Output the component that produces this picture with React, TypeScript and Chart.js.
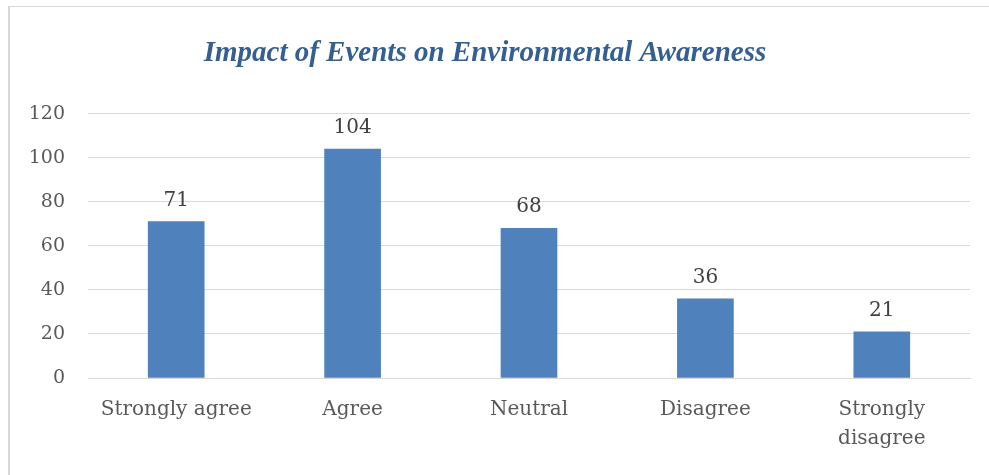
import React, { useEffect, useRef } from "react";
import { Chart, registerables } from "chart.js";

Chart.register(...registerables);

// Survey responses
const categories: string[] = ["Strongly agree", "Agree", "Neutral", "Disagree", "Strongly disagree"];
const responses: number[] = [71, 104, 68, 36, 21];
const yTicks: number[] = [0, 20, 40, 60, 80, 100, 120];

const TITLE = "Impact of Events on Environmental Awareness";
const BAR_COLOR = "#4F81BD";
const TEXT_COLOR = "#595959";
const GRID_COLOR = "#D9D9D9";
const SERIF = "'DejaVu Serif', serif";

// Writes each bar's value just above it
const valueLabels = {
  id: "valueLabels",
  afterDatasetsDraw(chart: any) {
    const { ctx } = chart;
    const meta = chart.getDatasetMeta(0);
    ctx.save();
    ctx.font = `20px ${SERIF}`;
    ctx.fillStyle = "#404040";
    ctx.textAlign = "center";
    ctx.textBaseline = "bottom";
    meta.data.forEach((bar: any, i: number) => {
      ctx.fillText(String(chart.data.datasets[0].data[i]), bar.x, bar.y - 11);
    });
    ctx.restore();
  },
};

export default function App() {
  const canvasRef = useRef<HTMLCanvasElement | null>(null);

  useEffect(() => {
    if (!canvasRef.current) return;
    const chart = new Chart(canvasRef.current, {
      type: "bar",
      data: {
        labels: categories,
        datasets: [
          {
            data: responses,
            backgroundColor: BAR_COLOR,
            borderColor: BAR_COLOR,
            borderWidth: 0,
            barThickness: 56,
          },
        ],
      },
      options: {
        responsive: false,
        animation: false,
        layout: { padding: { top: 30, right: 19, bottom: 0, left: 0 } },
        plugins: {
          legend: { display: false },
          tooltip: { enabled: false },
          title: {
            display: true,
            text: TITLE,
            color: "#365F91",
            font: { family: "'Liberation Serif', serif", size: 29, weight: "bold", style: "italic" },
            padding: { top: 6, bottom: 43 },
          },
        },
        scales: {
          x: {
            grid: { display: false, drawTicks: false },
            border: { display: true, color: GRID_COLOR, width: 1 },
            ticks: {
              color: TEXT_COLOR,
              font: { family: SERIF, size: 20, lineHeight: 1.45 },
              padding: 17,
              maxRotation: 0,
              autoSkip: false,
              callback: function (this: any, value: any) {
                const label = categories[value as number];
                return label.length > 15 ? label.split(" ") : label;
              },
            },
            afterFit: (scale: any) => {
              scale.height = 97;
            },
          },
          y: {
            min: 0,
            max: 120,
            afterBuildTicks: (scale: any) => {
              scale.ticks = yTicks.map((v) => ({ value: v }));
            },
            grid: { color: GRID_COLOR, lineWidth: 1, drawTicks: false },
            border: { display: false },
            ticks: {
              color: TEXT_COLOR,
              font: { family: SERIF, size: 19 },
              padding: 23,
            },
            afterFit: (scale: any) => {
              scale.width = 88;
            },
          },
        },
      },
      plugins: [valueLabels],
    });
    return () => chart.destroy();
  }, []);

  return (
    <div style={{ position: "absolute", left: 0, top: 0, width: 989, height: 475, background: "#fff" }}>
      <div
        style={{
          position: "absolute",
          left: 8,
          top: 6,
          width: 981,
          height: 469,
          borderLeft: "2px solid #D9D9D9",
          borderTop: "1px solid #D9D9D9",
          boxSizing: "border-box",
        }}
      />
      <canvas ref={canvasRef} width={989} height={475} style={{ position: "absolute", left: 0, top: 0 }} />
    </div>
  );
}
